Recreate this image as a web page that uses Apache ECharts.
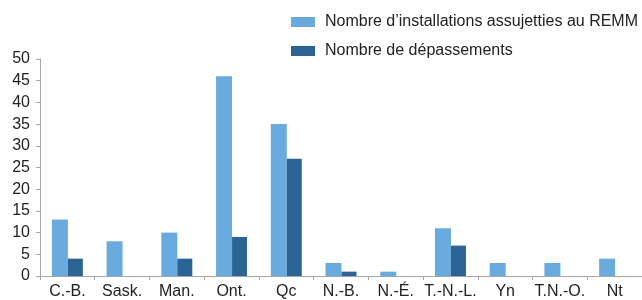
<!DOCTYPE html>
<html>
<head>
<meta charset="utf-8">
<script src="https://cdn.jsdelivr.net/npm/echarts@6/dist/echarts.min.js"></script>
<style>
  html, body { margin: 0; padding: 0; background: #fff; }
  #chart { width: 642px; height: 300px; }
</style>
</head>
<body>
<div id="chart"></div>
<script>
// provinces / territoires
const provinces = ['C.-B.', 'Sask.', 'Man.', 'Ont.', 'Qc', 'N.-B.', 'N.-É.', 'T.-N.-L.', 'Yn', 'T.N.-O.', 'Nt'];
const installations = [13, 8, 10, 46, 35, 3, 1, 11, 3, 3, 4];
const depassements = [4, 0, 4, 9, 27, 1, 0, 7, 0, 0, 0];
const seriesNames = ['Nombre d\u2019installations assujetties au REMM', 'Nombre de dépassements'];

const font = 'Liberation Sans, Arial, sans-serif';
const axisColor = '#a6a6a6';

let myChart = echarts.init(document.getElementById('chart'));
myChart.setOption({
    animation: false,
    legend: {
        orient: 'vertical',
        left: 291,
        top: 14,
        padding: 0,
        icon: 'rect',
        itemWidth: 24,
        itemHeight: 10,
        itemGap: 13,
        textStyle: { fontFamily: font, fontSize: 16, color: '#222', padding: [0, 0, 0, 5] },
        data: seriesNames
    },
    grid: { left: 40, right: -3, top: 59, bottom: 22, containLabel: false },
    xAxis: {
        type: 'category',
        data: provinces,
        axisLine: { lineStyle: { color: axisColor } },
        axisTick: { show: true, length: 4, lineStyle: { color: axisColor } },
        axisLabel: { fontFamily: font, fontSize: 16, color: '#222', margin: 8, interval: 0 }
    },
    yAxis: {
        type: 'value',
        min: 0,
        max: 50,
        interval: 5,
        splitLine: { show: false },
        axisLine: { show: true, lineStyle: { color: axisColor } },
        axisTick: { show: true, length: 4, lineStyle: { color: axisColor } },
        axisLabel: { fontFamily: font, fontSize: 16, color: '#222', margin: 10 }
    },
    series: [
        {
            name: seriesNames[0],
            type: 'bar',
            data: installations,
            barWidth: 16,
            barGap: '0%',
            itemStyle: { color: '#6aabdf' }
        },
        {
            name: seriesNames[1],
            type: 'bar',
            data: depassements,
            barWidth: 15,
            itemStyle: { color: '#2d6496' }
        }
    ]
});
</script>
</body>
</html>
